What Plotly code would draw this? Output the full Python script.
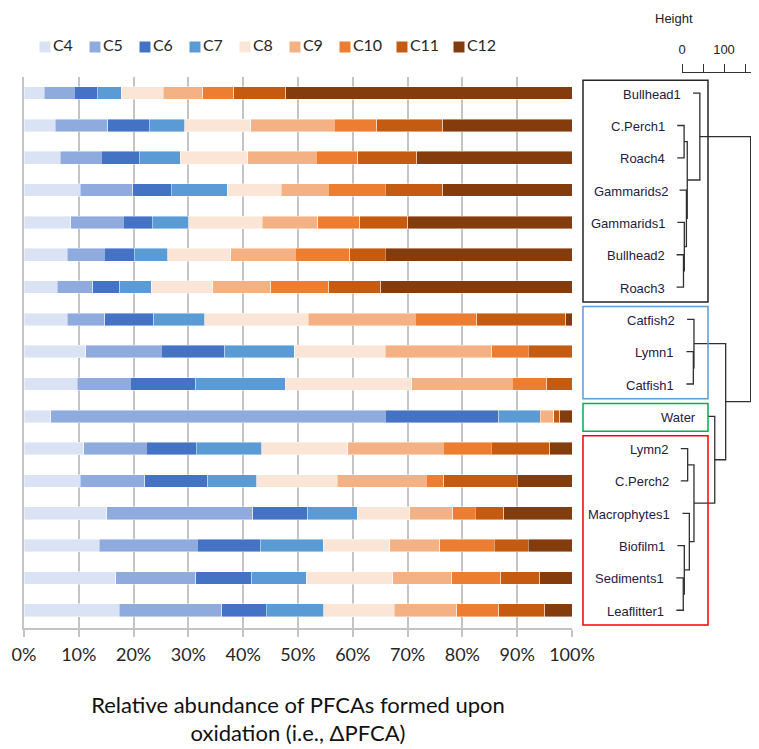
import plotly.graph_objects as go

# ---------------- data ----------------
samples = ["Bullhead1", "C.Perch1", "Roach4", "Gammarids2", "Gammarids1", "Bullhead2",
           "Roach3", "Catfish2", "Lymn1", "Catfish1", "Water", "Lymn2", "C.Perch2",
           "Macrophytes1", "Biofilm1", "Sediments1", "Leaflitter1"]
compounds = ["C4", "C5", "C6", "C7", "C8", "C9", "C10", "C11", "C12"]

C4 = [3.7, 5.7, 6.6, 10.3, 8.5, 7.9, 6.1, 7.9, 11.3, 9.7, 4.9, 10.9, 10.3, 15.1, 13.7, 16.7, 17.4]
C5 = [5.5, 9.6, 7.5, 9.5, 9.6, 6.7, 6.4, 6.8, 13.7, 9.7, 61.0, 11.4, 11.7, 26.6, 17.9, 14.6, 18.7]
C6 = [4.2, 7.6, 6.9, 7.1, 5.3, 5.5, 5.0, 9.0, 11.6, 11.9, 20.7, 9.1, 11.5, 10.1, 11.5, 10.3, 8.1]
C7 = [4.3, 6.4, 7.5, 10.2, 6.7, 6.1, 5.7, 9.3, 12.7, 16.4, 7.6, 12.0, 9.0, 9.0, 11.5, 9.9, 10.5]
C8 = [7.7, 12.1, 12.3, 9.8, 13.4, 11.5, 11.2, 18.9, 16.6, 23.1, 0.0, 15.7, 14.7, 9.6, 12.1, 15.8, 12.9]
C9 = [7.2, 15.2, 12.5, 8.6, 10.1, 11.8, 10.6, 19.5, 19.5, 18.3, 2.5, 17.4, 16.2, 7.8, 9.2, 10.8, 11.4]
C10 = [5.7, 7.8, 7.6, 10.4, 7.7, 9.9, 10.6, 11.2, 6.6, 6.3, 0.0, 8.8, 3.2, 4.1, 9.9, 8.9, 7.6]
C11 = [9.5, 12.0, 10.8, 10.5, 8.7, 6.5, 9.5, 16.3, 8.0, 4.6, 1.1, 10.6, 13.4, 5.2, 6.2, 7.1, 8.4]
C12 = [52.2, 23.6, 28.3, 23.6, 30.0, 34.1, 34.9, 1.1, 0.0, 0.0, 2.2, 4.1, 10.0, 12.5, 8.0, 5.9, 5.0]
series = [C4, C5, C6, C7, C8, C9, C10, C11, C12]

x_ticks = [0, 10, 20, 30, 40, 50, 60, 70, 80, 90, 100]
x_ticktext = ["0%", "10%", "20%", "30%", "40%", "50%", "60%", "70%", "80%", "90%", "100%"]

# hierarchical clustering merges (R hclust convention: -k = leaf k (1-based), +m = merge m)
merge_a = [-2, -6, -5, -4, 1, -1, -9, -8, -16, -15, -14, -12, 12, -11, 8, 6]
merge_b = [-3, -7, 2, 3, 4, 5, -10, 7, -17, 9, 10, -13, 11, 13, 14, 15]
merge_h = [5, 3.5, 5.5, 10.5, 12.5, 42.5, 27, 28.5, 3, 5.5, 17.5, 13.5, 28.5, 78, 104, 163.5]
hang = 16.4

# cluster groups (boxes)
cluster_of_leaf = [0, 0, 0, 0, 0, 0, 0, 1, 1, 1, 2, 3, 3, 3, 3, 3, 3]
cluster_colors = ["#262626", "#5b9bd5", "#00b050", "#ff0000"]

height_ticks = [0, 50, 100, 150]
height_ticktext = ["0", "", "100", ""]

colors = ["#dae3f3", "#8faadc", "#4472c4", "#5b9bd5", "#fbe5d6",
          "#f4b183", "#ed7d31", "#c55a11", "#843c0c"]

# ---------------- layout constants ----------------
PAGE_W, PAGE_H = 759, 749
OFF = 8  # default body margin of the html page
W, H = PAGE_W - OFF, PAGE_H - OFF
px = lambda v: (v - OFF) / W
py = lambda v: 1 - (v - OFF) / H
font_main = "Lato, 'Open Sans', sans-serif"
font_dend = "'Liberation Sans', Arial, sans-serif"
dend_zero_px, dend_scale = 682.0, 0.42  # page px at height 0, px per height unit

fig = go.Figure()
rows = list(range(len(samples)))

for name, vals, col in zip(compounds, series, colors):
    fig.add_trace(go.Bar(
        x=vals, y=rows, orientation="h", name=name, width=0.39,
        marker=dict(color=col, line=dict(color="rgba(255,255,255,0.7)", width=0.6)),
        showlegend=False, hoverinfo="x+name"))

# ---------------- legend built from scatter (square markers + text) ----------------
leg_x = []
pos = 45
for c in compounds:
    leg_x.append(pos)
    pos += 36 + 7 * len(c)
fig.add_trace(go.Scatter(
    x=leg_x, y=[0] * len(compounds), xaxis="x4", yaxis="y4",
    mode="markers+text", text=compounds, textposition="middle right",
    marker=dict(symbol="square", size=11, color=colors),
    textfont=dict(family=font_main, size=16, color="#262626"),
    showlegend=False, hoverinfo="skip", cliponaxis=False))

# ---------------- dendrogram ----------------
n_leaf = len(samples)
node_y = {}
node_h = {}
for i in range(n_leaf):
    node_y[-(i + 1)] = i
dx, dy = [], []
leaf_start = {}
for m, (a, b, h) in enumerate(zip(merge_a, merge_b, merge_h), start=1):
    ends = []
    for c in (a, b):
        if c < 0:
            ch = h - hang
            leaf_start[-c - 1] = ch
        else:
            ch = node_h[c]
        ends.append((ch, node_y[c]))
    (h1, y1), (h2, y2) = ends
    dx += [h1, h, h, h2, None]
    dy += [y1, y1, y2, y2, None]
    node_y[m] = (y1 + y2) / 2
    node_h[m] = h

fig.add_trace(go.Scatter(
    x=dx, y=dy, xaxis="x2", yaxis="y", mode="lines",
    line=dict(color="#303030", width=1.3), showlegend=False, hoverinfo="skip",
    cliponaxis=False))

# invisible anchor for the height axis
fig.add_trace(go.Scatter(x=[0], y=[0], xaxis="x3", yaxis="y", mode="markers",
                         marker=dict(opacity=0), showlegend=False, hoverinfo="skip"))

annotations = []
for i, s in enumerate(samples):
    annotations.append(dict(
        x=leaf_start[i], y=i, xref="x2", yref="y", text=s, showarrow=False,
        xanchor="right", yanchor="middle", xshift=-10, yshift=-1,
        font=dict(family=font_dend, size=13, color="#1f2040")))
annotations.append(dict(
    x=px(673.5), y=py(18), xref="paper", yref="paper", text="Height",
    showarrow=False, xanchor="center", yanchor="middle",
    font=dict(family=font_dend, size=13, color="#222222")))

shapes = []
for k, col in enumerate(cluster_colors):
    members = [i for i, c in enumerate(cluster_of_leaf) if c == k]
    shapes.append(dict(
        type="rect", xref="paper", yref="y",
        x0=px(583), x1=px(708), y0=min(members) - 0.4, y1=max(members) + 0.46,
        line=dict(color=col, width=1.5), fillcolor="rgba(0,0,0,0)"))

x2_left = (583 - dend_zero_px) / dend_scale
x2_right = (PAGE_W - dend_zero_px) / dend_scale
x3_right = (757 - dend_zero_px) / dend_scale

fig.update_layout(
    width=W, height=H,
    margin=dict(l=0, r=0, t=0, b=0, autoexpand=False),
    paper_bgcolor="white", plot_bgcolor="rgba(0,0,0,0)",
    barmode="stack", bargap=0.6, showlegend=False,
    font=dict(family=font_main, color="#262626"),
    xaxis=dict(
        domain=[px(24), px(572)], range=[0, 100], tickvals=x_ticks, ticktext=x_ticktext,
        showgrid=True, gridcolor="#c4c4c4", gridwidth=1.6,
        zeroline=False, showline=True, linecolor="#c4c4c4", linewidth=1.6,
        ticks="outside", ticklen=7, tickcolor="#c4c4c4", tickwidth=1.6,
        ticklabelstandoff=3,
        tickfont=dict(family=font_main, size=18, color="#262626"),
        title=dict(text="Relative abundance of PFCAs formed upon<br>oxidation (i.e., ΔPFCA)",
                   font=dict(family=font_main, size=22, color="#111111"), standoff=33),
        anchor="y", automargin=False, fixedrange=True),
    yaxis=dict(
        domain=[py(628), py(77)], range=[16.55, -0.5], showticklabels=False,
        showgrid=False, zeroline=False, showline=True, linecolor="#c4c4c4",
        linewidth=1.6, automargin=False, fixedrange=True),
    xaxis2=dict(
        domain=[px(583), px(PAGE_W)], range=[x2_left, x2_right], anchor="y",
        visible=False, automargin=False, fixedrange=True),
    xaxis3=dict(
        domain=[px(dend_zero_px), px(757)], range=[0, x3_right], anchor="free",
        position=py(72), side="top", tickvals=height_ticks, ticktext=height_ticktext,
        ticks="outside", ticklen=8, tickcolor="#333333", tickwidth=1,
        ticklabelstandoff=5,
        showline=True, linecolor="#333333", linewidth=1, showgrid=False,
        zeroline=False, tickfont=dict(family=font_dend, size=13, color="#222222"),
        automargin=False, fixedrange=True),
    xaxis4=dict(domain=[0, 1], range=[OFF, PAGE_W], visible=False, anchor="y4",
                automargin=False, fixedrange=True),
    yaxis4=dict(domain=[py(54), py(40)], range=[-1, 1], visible=False, anchor="x4",
                automargin=False, fixedrange=True),
    annotations=annotations, shapes=shapes,
)

fig.write_html("out.html")
